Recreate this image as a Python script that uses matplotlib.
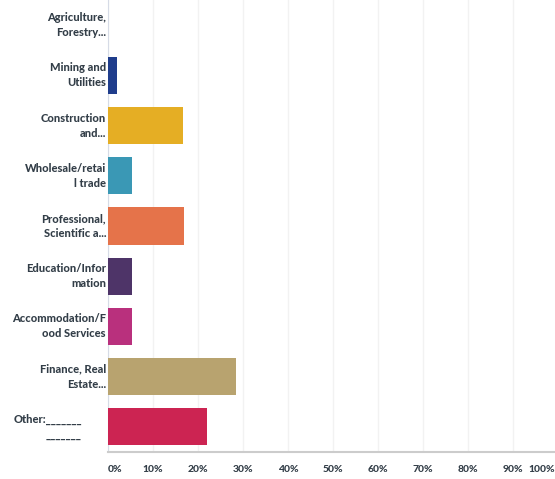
import matplotlib
matplotlib.use("Agg")
import matplotlib.pyplot as plt
from matplotlib.transforms import ScaledTranslation

# Survey responses by industry (percent of respondents)
categories = [
    "Agriculture,\nForestry...",
    "Mining and\nUtilities",
    "Construction\nand...",
    "Wholesale/retai\nl trade",
    "Professional,\nScientific a...",
    "Education/Infor\nmation",
    "Accommodation/F\nood Services",
    "Finance, Real\nEstate...",
    "Other:_______\n_______",
]
values = [0.0, 2.0, 16.7, 5.3, 16.9, 5.3, 5.3, 28.4, 22.0]
colors = ["#3a5fa8", "#1f3d8c", "#e5ae24", "#3a98b5", "#e5734a",
          "#4e3468", "#b9307d", "#b8a36f", "#cc2452"]
tick_values = [0, 10, 20, 30, 40, 50, 60, 70, 80, 90, 100]
tick_labels = ["0%", "10%", "20%", "30%", "40%", "50%", "60%", "70%", "80%", "90%", "100%"]

text_color = "#333e48"
plt.rcParams["font.family"] = ["Lato", "DejaVu Sans"]

W, H = 555, 479
fig = plt.figure(figsize=(W / 100, H / 100), dpi=100)
ax = fig.add_axes([108 / W, 27 / H, 450 / W, 452 / H])

pos = list(range(len(categories)))
ax.barh(pos, values, height=0.74, color=colors, zorder=3)

ax.set_xlim(0, 100)
ax.set_ylim(len(categories) - 0.5, -0.5)

ax.set_xticks(tick_values)
ax.set_xticklabels(tick_labels, fontsize=7.5, fontweight="black", color=text_color)
ax.tick_params(axis="x", length=0, pad=9)
labels = ax.get_xticklabels()
labels[0].set_ha("left")
labels[-1].set_ha("right")
labels[-1].set_transform(labels[-1].get_transform()
                         + ScaledTranslation(-3 / 100, 0, fig.dpi_scale_trans))

ax.set_yticks(pos)
ax.set_yticklabels([])
ax.tick_params(axis="y", length=0)
for i, lab in enumerate(categories):
    off = -26 if lab.startswith("Other") else -2
    ax.annotate(lab, xy=(0, i), xycoords=("data", "data"),
                xytext=(off, 0), textcoords="offset pixels",
                ha="right", va="center", multialignment="right",
                fontsize=8, fontweight="black", color=text_color,
                linespacing=1.45)

ax.grid(axis="x", color="#f2f2f2", linewidth=1, zorder=0)
for s in ["top", "right"]:
    ax.spines[s].set_visible(False)
ax.spines["left"].set_color("#d6dbe6")
ax.spines["bottom"].set_color("#cccccc")
ax.spines["bottom"].set_linewidth(1.5)

fig.savefig("out.png", dpi=100)
